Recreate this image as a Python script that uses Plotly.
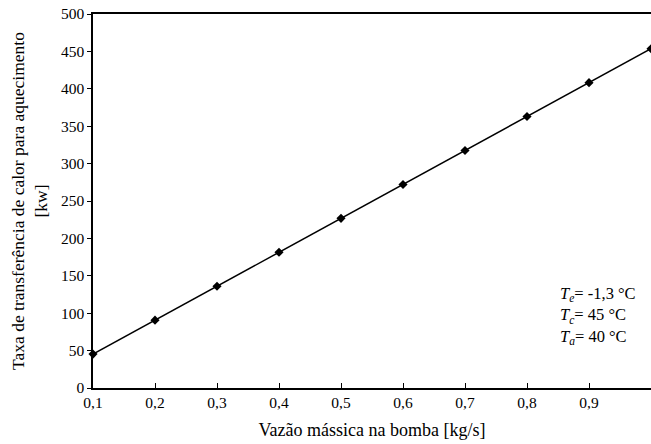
import plotly.graph_objects as go

flow = [0.1, 0.2, 0.3, 0.4, 0.5, 0.6, 0.7, 0.8, 0.9, 1.0]
heat = [45.3, 90.7, 136.0, 181.4, 226.8, 272.1, 317.5, 362.9, 408.2, 453.6]
xticks = [0.1, 0.2, 0.3, 0.4, 0.5, 0.6, 0.7, 0.8, 0.9]
xlabels = ["0,1", "0,2", "0,3", "0,4", "0,5", "0,6", "0,7", "0,8", "0,9"]
yticks = [0, 50, 100, 150, 200, 250, 300, 350, 400, 450, 500]

FONT = "Liberation Serif, Times New Roman, serif"

fig = go.Figure()
fig.add_trace(go.Scatter(
    x=flow, y=heat, mode="lines+markers",
    line=dict(color="black", width=1.5),
    marker=dict(symbol="diamond", size=7, color="black"),
    cliponaxis=False, showlegend=False,
))

fig.update_layout(
    width=651, height=444,
    margin=dict(l=93, r=0, t=14, b=56),
    paper_bgcolor="white", plot_bgcolor="white",
    font=dict(family=FONT, size=15, color="black"),
    xaxis=dict(
        range=[0.1, 1.0], tickvals=xticks, ticktext=xlabels,
        ticks="inside", ticklen=5, tickcolor="black", tickwidth=1,
        showline=True, linecolor="black", linewidth=1.5, mirror=True,
        showgrid=False, zeroline=False,
        title=dict(text="Vazão mássica na bomba [kg/s]", font=dict(size=18), standoff=13),
        tickfont=dict(size=15.5),
    ),
    yaxis=dict(
        range=[0, 500], tickvals=yticks,
        ticks="outside", ticklen=4, tickcolor="black", tickwidth=1,
        showline=True, linecolor="black", linewidth=1.5,
        showgrid=False, zeroline=False,
        title=dict(text="Taxa de transferência de calor para aquecimento<br>[kw]",
                   font=dict(size=17.5), standoff=9),
        tickfont=dict(size=15.5),
    ),
)

fig.add_annotation(
    xref="paper", yref="paper", x=0.833, y=0.105, xanchor="left", yanchor="bottom",
    align="left", showarrow=False,
    text="<i>T</i><sub><i>e</i></sub>= -1,3 °C<br><i>T</i><sub><i>c</i></sub>= 45 °C<br><i>T</i><sub><i>a</i></sub>= 40 °C",
    font=dict(family=FONT, size=16.5, color="black"),
)

fig.write_html("out.html")
